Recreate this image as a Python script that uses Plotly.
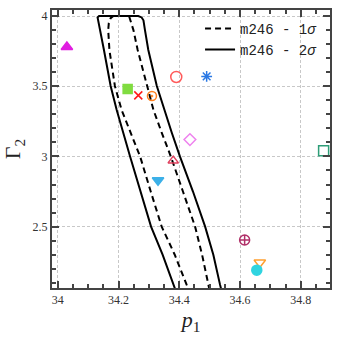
import plotly.graph_objects as go

# ---- contour data (m246) ----
c2_left_x = [34.404, 34.380, 34.345, 34.307, 34.272, 34.238, 34.194, 34.174, 34.152, 34.139, 34.132, 34.131, 34.136]
c2_left_y = [1.95, 2.087, 2.30, 2.5, 2.75, 3.0, 3.331, 3.502, 3.758, 3.90, 3.96, 3.99, 4.0]
c2_top_x = [34.16, 34.21, 34.265, 34.276]
c2_top_y = [4.0, 4.0, 4.0, 3.99]
c2_right_x = [34.282, 34.287, 34.298, 34.326, 34.350, 34.375, 34.402, 34.445, 34.485, 34.512, 34.534, 34.55]
c2_right_y = [3.97, 3.90, 3.758, 3.502, 3.331, 3.17, 3.0, 2.75, 2.5, 2.30, 2.087, 1.95]

c1_left_x = [34.451, 34.424, 34.385, 34.342, 34.306, 34.271, 34.210, 34.188, 34.170, 34.166, 34.168, 34.174, 34.183]
c1_left_y = [1.95, 2.087, 2.30, 2.5, 2.75, 3.0, 3.331, 3.502, 3.758, 3.90, 3.95, 3.985, 4.0]
c1_top_x = [34.20, 34.225]
c1_top_y = [4.0, 4.0]
c1_right_x = [34.236, 34.249, 34.263, 34.293, 34.315, 34.342, 34.372, 34.412, 34.452, 34.475, 34.495, 34.509]
c1_right_y = [3.99, 3.90, 3.758, 3.502, 3.331, 3.17, 3.0, 2.75, 2.5, 2.30, 2.087, 1.95]

# ---- scattered model points ----
pt_x = [34.03, 34.23, 34.265, 34.31, 34.39, 34.49, 34.435, 34.38, 34.33, 34.875, 34.615, 34.665, 34.655]
pt_y = [3.78, 3.48, 3.435, 3.43, 3.566, 3.57, 3.12, 2.97, 2.83, 3.04, 2.405, 2.245, 2.19]
pt_symbols = ["triangle-up", "square", "x-thin-open", "circle-open-dot", "circle-open",
              "asterisk-open", "diamond-open", "triangle-up-open", "triangle-down",
              "square-open", "circle-cross-open", "triangle-down-open", "circle"]
pt_colors = ["#e01ee0", "#80dc40", "#ff1a1a", "#ff7f1e", "#ff5a5a", "#2a78e4", "#ee82ee",
             "#e0405e", "#3cb0e8", "#2e9e78", "#b03068", "#ffa030", "#30d4e0"]
pt_sizes = [10, 9, 8, 9, 11, 9, 9, 9, 10, 10, 10, 10, 10]

x_ticks = [34, 34.2, 34.4, 34.6, 34.8]
y_ticks = [2.5, 3, 3.5, 4]

def path(lx, ly, tx, ty, rx, ry):
    return lx + tx + rx, ly + ty + ry

fig = go.Figure()

x1, y1 = path(c1_left_x, c1_left_y, c1_top_x, c1_top_y, c1_right_x, c1_right_y)
fig.add_trace(go.Scatter(x=x1, y=y1, mode="lines", name="m246 - 1<i>σ</i>",
                         line=dict(color="black", width=2, dash="6px,4px")))
x2, y2 = path(c2_left_x, c2_left_y, c2_top_x, c2_top_y, c2_right_x, c2_right_y)
fig.add_trace(go.Scatter(x=x2, y=y2, mode="lines", name="m246 - 2<i>σ</i>",
                         line=dict(color="black", width=2)))

for i in range(len(pt_x)):
    fig.add_trace(go.Scatter(
        x=[pt_x[i]], y=[pt_y[i]], mode="markers", showlegend=False, cliponaxis=False,
        marker=dict(symbol=pt_symbols[i], size=pt_sizes[i], color=pt_colors[i],
                    line=dict(color=pt_colors[i], width=1.5))))

axis_common = dict(
    showline=True, linecolor="#444", linewidth=2, mirror="ticks",
    ticks="inside", ticklen=7, tickwidth=1.5, tickcolor="#444",
    showgrid=True, gridcolor="#c8c8c8", gridwidth=1, griddash="3px,2px",
    zeroline=False, automargin=False,
    tickfont=dict(family="Liberation Serif", size=12, color="#333"),
)

fig.update_xaxes(
    range=[33.981, 34.896], tickvals=x_ticks, ticktext=[str(v) for v in x_ticks],
    minor=dict(dtick=0.05, tick0=34, ticks="inside", ticklen=4, tickcolor="#444", showgrid=False),
    title=dict(text="<i>p</i><sub>1</sub>", font=dict(family="Liberation Serif", size=22, color="#222"), standoff=4),
    **axis_common)
fig.update_yaxes(
    range=[2.063, 4.043], tickvals=y_ticks, ticktext=["2.5", "3", "3.5", "4"],
    minor=dict(dtick=0.1, tick0=2, ticks="inside", ticklen=4, tickcolor="#444", showgrid=False),
    title=dict(text="Γ<sub>2</sub>", font=dict(family="Liberation Serif", size=22, color="#222"), standoff=6),
    **axis_common)

fig.update_layout(
    width=338, height=341,
    margin=dict(l=52, r=8, t=10, b=53),
    plot_bgcolor="white", paper_bgcolor="white",
    legend=dict(x=0.975, y=0.99, xanchor="right", yanchor="top",
                bgcolor="rgba(0,0,0,0)", borderwidth=0, tracegroupgap=0,
                itemwidth=30,
                font=dict(family="Liberation Mono", size=14, color="#222")),
)

fig.write_html("out.html", config={"displayModeBar": False},
               post_script="document.body.style.margin='0px';")
